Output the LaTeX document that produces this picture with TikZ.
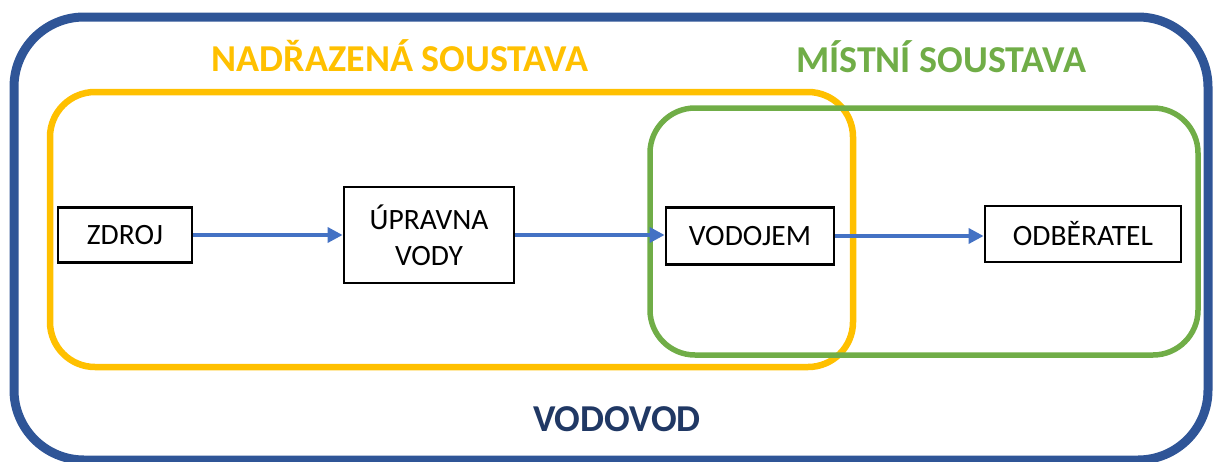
\documentclass[tikz,border=0pt]{standalone}
\usepackage{fontspec}
\setmainfont{Carlito}
\usetikzlibrary{arrows.meta}
\definecolor{outerblue}{HTML}{2F5597}
\definecolor{titleblue}{HTML}{203864}
\definecolor{ylw}{HTML}{FFC000}
\definecolor{grn}{HTML}{70AD47}
\definecolor{arrblue}{HTML}{4472C4}
\tikzset{
  box/.style={draw=black, line width=2.8pt, fill=white, inner sep=0pt, align=center, font=\fontsize{29.5}{36}\selectfont},
  flow/.style={draw=arrblue, line width=3.5pt, -{Triangle[length=15pt,width=15pt]}},
  title/.style={font=\fontsize{38}{44}\selectfont\bfseries, anchor=center}
}
\begin{document}
\begin{tikzpicture}[x=1pt,y=-1pt]
\useasboundingbox (0,0) rectangle (1213,461);
% outer frame
\draw[outerblue, line width=9pt, rounded corners=70pt] (14,17) rectangle (1208,460);
% yellow group
\draw[ylw, line width=6.5pt, rounded corners=45pt] (50,92) rectangle (853,367);
% green group
\draw[grn, line width=5.5pt, rounded corners=45pt] (650,108) rectangle (1198,355);
% titles
\node[title, text=ylw] (tnad) at (400,56) {NADŘAZENÁ SOUSTAVA};
\node[title, text=grn] (tmis) at (941,57) {MÍSTNÍ SOUSTAVA};
\node[title, text=titleblue] (tvod) at (617,419) {VODOVOD};
% boxes
\node[box, minimum width=134pt, minimum height=55pt] (zdroj) at (125,235) {ZDROJ};
\node[box, minimum width=170pt, minimum height=96pt] (uprav) at (429,235) {ÚPRAVNA\\VODY};
\node[box, minimum width=168pt, minimum height=57pt] (vodo) at (750,236) {VODOJEM};
\node[box, minimum width=196pt, minimum height=56pt] (odb) at (1083,234) {ODBĚRATEL};
% arrows
\draw[flow] (zdroj.east) -- (zdroj.east -| uprav.west);
\draw[flow] (uprav.east) -- (uprav.east -| vodo.west);
\draw[flow] (vodo.east) -- (vodo.east -| odb.west);
\end{tikzpicture}
\end{document}
